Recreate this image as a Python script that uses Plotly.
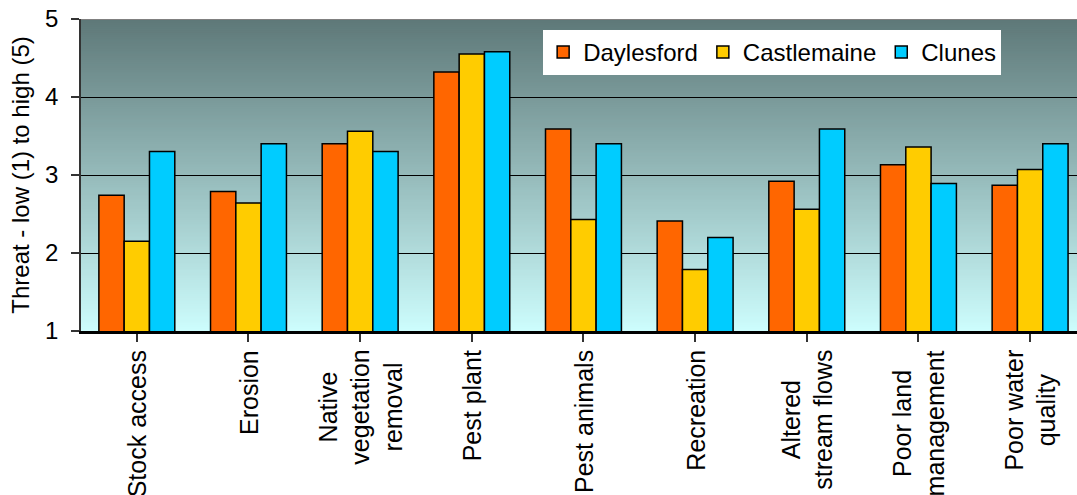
import plotly.graph_objects as go

categories = [
    "Stock access", "Erosion", "Native<br>vegetation<br>removal", "Pest plant",
    "Pest animals", "Recreation", "Altered<br>stream flows",
    "Poor land<br>management", "Poor water<br>quality",
]
daylesford = [2.74, 2.79, 3.40, 4.32, 3.59, 2.41, 2.92, 3.13, 2.87]
castlemaine = [2.15, 2.64, 3.56, 4.55, 2.43, 1.79, 2.56, 3.36, 3.07]
clunes = [3.30, 3.40, 3.30, 4.58, 3.40, 2.20, 3.59, 2.89, 3.40]

series = [
    ("Daylesford", daylesford, "#ff6600"),
    ("Castlemaine", castlemaine, "#ffcc00"),
    ("Clunes", clunes, "#00ccff"),
]

FONT = "Liberation Sans, Arial, sans-serif"
x_idx = list(range(len(categories)))

fig = go.Figure()
for name, vals, col in series:
    fig.add_trace(go.Bar(
        x=x_idx, y=vals, name=name,
        marker=dict(color=col, line=dict(color="black", width=1.5)),
    ))

# vertical gradient behind the bars: dark slate at the top, pale cyan at the bottom.
# Each band reaches to the top of the plot and the next one is laid over it,
# so no seams appear between bands.
top_rgb = (94, 120, 120)
bot_rgb = (205, 253, 253)
n_bands = 160
shapes = []
for i in range(n_bands):
    t = (i + 0.5) / n_bands
    r, g, b = (round(bot_rgb[k] + (top_rgb[k] - bot_rgb[k]) * t) for k in range(3))
    shapes.append(dict(
        type="rect", xref="paper", yref="y", x0=0, x1=1,
        y0=1 + 4 * i / n_bands, y1=5,
        fillcolor=f"rgb({r},{g},{b})", line=dict(width=0), layer="below",
    ))
# grey frame line along the top of the plotting area
shapes.append(dict(type="line", xref="paper", yref="y", x0=0, x1=1, y0=5, y1=5,
                   line=dict(color="#808080", width=2), layer="above"))
fig.update_layout(shapes=shapes)

# category labels, rotated with centred lines
for i, cat in enumerate(categories):
    fig.add_annotation(
        x=i, y=0, xref="x", yref="paper", yshift=-17,
        text=cat, showarrow=False, textangle=-90, align="center",
        xanchor="center", yanchor="top",
        font=dict(family=FONT, size=25, color="black"),
    )

fig.update_layout(
    width=1077, height=495,
    margin=dict(l=81, r=0, t=19, b=164),
    paper_bgcolor="white",
    plot_bgcolor="rgba(0,0,0,0)",
    barmode="group", bargap=0.32, bargroupgap=0,
    font=dict(family=FONT, size=24, color="black"),
    showlegend=True,
    legend=dict(
        orientation="h", x=0.464, y=0.965, xanchor="left", yanchor="top",
        bgcolor="white", borderwidth=0,
        font=dict(family=FONT, size=24, color="black"),
        itemwidth=30, tracegroupgap=0,
    ),
    xaxis=dict(
        range=[-0.5, 8.42], tickmode="array", tickvals=x_idx,
        showticklabels=False, showgrid=False, zeroline=False,
        showline=True, linecolor="black", linewidth=3,
        ticks="outside", ticklen=8, tickcolor="#333333", tickwidth=1.5,
        tickson="boundaries", type="linear",
    ),
    yaxis=dict(
        range=[1, 5], dtick=1, tick0=1,
        showgrid=True, gridcolor="black", gridwidth=1,
        zeroline=False, showline=True, linecolor="#333333", linewidth=1.5,
        ticks="outside", ticklen=8, tickcolor="#333333", tickwidth=1.5,
        ticklabelstandoff=8,
        tickfont=dict(family=FONT, size=24, color="black"),
        title=dict(text="Threat - low (1) to high (5)", standoff=9,
                   font=dict(family=FONT, size=24, color="black")),
    ),
)

fig.write_html("out.html")
